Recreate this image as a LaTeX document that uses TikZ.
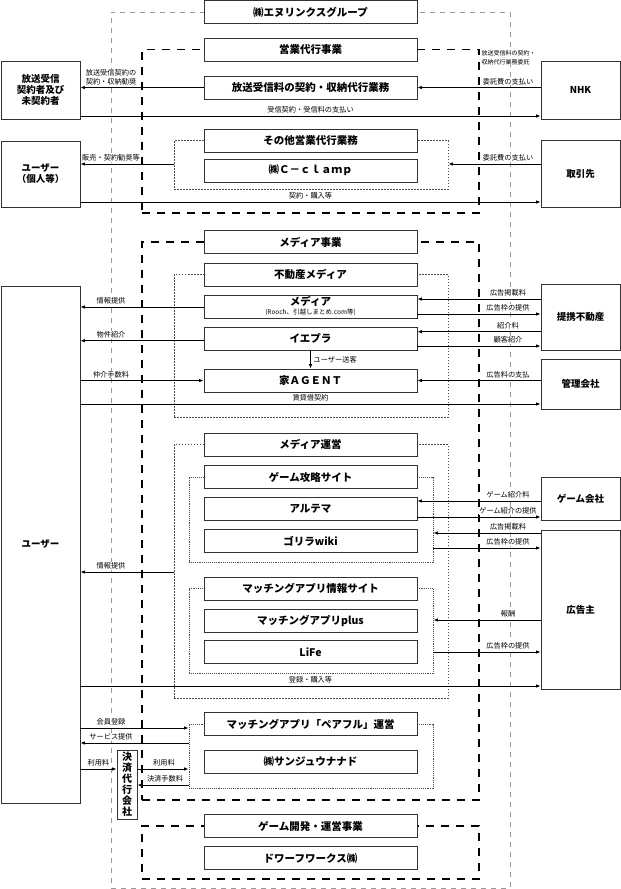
\documentclass[tikz,border=0pt]{standalone}
\usepackage{fontspec}
\setmainfont{Noto Sans CJK JP}
\usetikzlibrary{arrows.meta}

\tikzset{
  box/.style={draw=black!80,fill=white,line width=.8pt,minimum width=213pt,minimum height=23pt,inner sep=0pt,font=\fontsize{10.5}{12}\selectfont\bfseries},
  party/.style={draw=black!80,fill=white,line width=.8pt,minimum width=79pt,inner sep=0pt,align=center,font=\fontsize{9.5}{11}\selectfont\bfseries},
  lbl/.style={fill=white,inner sep=.5pt,font=\fontsize{7.2}{9}\selectfont},
  arr/.style={-{Latex[length=4.5pt,width=3.5pt]},line width=.9pt},
  grpframe/.style={draw=black!40,line width=1pt,dash pattern=on 5pt off 5pt,inner sep=0pt},
  secframe/.style={draw,line width=1.3pt,dash pattern=on 8pt off 7pt,inner sep=0pt},
  subframe/.style={draw=black!70,line width=.7pt,dash pattern=on 1.5pt off 1.5pt,inner sep=0pt},
  siteframe/.style={draw=black!70,line width=.9pt,densely dotted,inner sep=0pt},
}

\begin{document}
\begin{tikzpicture}[x=1pt,y=-1pt]
  \useasboundingbox (0,0) rectangle (621,889);
  % frames
  \node[grpframe,minimum width=399pt,minimum height=876pt] (fgrp) at (310.5,450) {};
  \node[secframe,minimum width=337pt,minimum height=163.5pt] (feigyo) at (310.5,131.25) {};
  \node[secframe,minimum width=337pt,minimum height=558pt] (fmedia) at (310.5,521) {};
  \node[secframe,minimum width=337pt,minimum height=53pt] (fgamedev) at (310.5,852.5) {};
  \node[subframe,minimum width=274pt,minimum height=48.5pt] (fsonota) at (311,164.75) {};
  \node[subframe,minimum width=274pt,minimum height=142.5pt] (ffudo) at (311,345.75) {};
  \node[subframe,minimum width=274pt,minimum height=253.5pt] (funei) at (311,571.25) {};
  \node[siteframe,minimum width=244pt,minimum height=85pt] (fgame) at (311,519.5) {};
  \node[siteframe,minimum width=244pt,minimum height=84.5pt] (fmatch) at (311,630.75) {};
  \node[siteframe,minimum width=244pt,minimum height=64pt] (fpairs) at (311,756) {};

  % business boxes
  \foreach \n/\y/\t in {grp/12/㈱エヌリンクスグループ, eigyo/49.5/営業代行事業,
      hoso/87.5/放送受信料の契約・収納代行業務, sonota/140.5/その他営業代行業務,
      cclamp/170.5/㈱Ｃ－ｃｌａｍｐ, mediaj/242/メディア事業, fudo/274.5/不動産メディア,
      iepura/338.5/イエプラ, ieagent/380.5/家ＡＧＥＮＴ, unei/444.5/メディア運営,
      game/477/ゲーム攻略サイト, arutema/508.5/アルテマ, gorira/541/ゴリラwiki,
      match/588.5/マッチングアプリ情報サイト, plus/620.5/マッチングアプリplus, life/652/LiFe,
      pairs/724/マッチングアプリ「ペアフル」運営, sanju/762/㈱サンジュウナナド,
      gamedev/826/ゲーム開発・運営事業, dwarf/858/ドワーフワークス㈱}
    \node[box] (\n) at (310.5,\y) {\t};
  \node[box,align=center] (media) at (310.5,306.5) {メディア\\[-3pt]{\fontsize{6.5}{7}\selectfont\mdseries (Rooch、引越しまとめ.com等)}};

  % outside parties
  \node[party,minimum height=58pt] (housou) at (40.5,90) {放送受信\\契約者及び\\未契約者};
  \node[party,minimum height=66pt] (kojin) at (40.5,174) {ユーザー\\（個人等）};
  \node[party,minimum height=517pt] (user) at (40.5,544.5) {ユーザー};
  \node[party,minimum height=58pt] (nhk) at (580.5,90) {NHK};
  \node[party,minimum height=67pt] (torihiki) at (580.5,173.5) {取引先};
  \node[party,minimum height=66pt] (teikei) at (580.5,317) {提携不動産};
  \node[party,minimum height=50pt] (kanri) at (580.5,384) {管理会社};
  \node[party,minimum height=43pt] (gamekai) at (580.5,498.5) {ゲーム会社};
  \node[party,minimum height=159pt] (koukoku) at (580.5,609.5) {広告主};
  \node[party,minimum width=20pt,minimum height=69pt,font=\fontsize{10}{11}\selectfont\bfseries] (kessai) at (127,784.5) {決\\済\\代\\行\\会\\社};

  % flows
  \foreach \a/\b/\y in {hoso.west/housou.east/87.5, housou.east/nhk.west/116, nhk.west/hoso.east/87.5,
      torihiki.west/fsonota.east/164, fsonota.west/kojin.east/164, kojin.east/torihiki.west/202,
      media.west/user.east/307, iepura.west/user.east/340.7, user.east/ieagent.west/380.5,
      user.east/kanri.west/404, teikei.west/media.east/299, media.east/teikei.west/314,
      teikei.west/iepura.east/331.7, iepura.east/teikei.west/346, kanri.west/ieagent.east/380.5,
      funei.west/user.east/572, user.east/koukoku.west/686, gamekai.west/arutema.east/501,
      arutema.east/gamekai.west/517, koukoku.west/fgame.east/533, fgame.east/koukoku.west/548,
      koukoku.west/fmatch.east/620, fmatch.east/koukoku.west/652, user.east/fpairs.west/728,
      fpairs.west/user.east/743, user.east/kessai.west/769, kessai.east/fpairs.west/769,
      fpairs.west/kessai.east/785}
    \draw[arr] (\a |- 0,\y) -- (\b |- 0,\y);
  \draw[arr] (iepura.south) -- (ieagent.north);

  % flow labels
  \foreach \n/\x/\y/\t in {l2/310.5/116/受信契約・受信料の支払い, l3/508/87.5/委託費の支払い,
      l4/508/164/委託費の支払い, l5/111/164/販売・契約勧奨等, l6/310.5/202/契約・購入等,
      l7/111/307/情報提供, l8/111/340.7/物件紹介, l9/111/380.5/仲介手数料, l10/310.5/404/賃貸借契約,
      l11/508/299/広告掲載料, l12/508/314/広告枠の提供, l13/508/331.7/紹介料, l14/508/346/顧客紹介,
      l15/508/380.5/広告料の支払, l16/111/572/情報提供, l17/310.5/686/登録・購入等,
      l18/508/501/ゲーム紹介料, l19/508/517/ゲーム紹介の提供, l20/508/533/広告掲載料,
      l21/508/548/広告枠の提供, l22/508/620/報酬, l23/508/652/広告枠の提供,
      l24/111/728/会員登録, l25/111/743/サービス提供, l26/98.5/769/利用料,
      l27/164/769/利用料, l28/165/785/決済手数料}
    \node[lbl,above=2pt] (\n) at (\x,\y) {\t};
  \node[lbl,above=2pt,align=center] (l1) at (111,87.5) {放送受信契約の\\契約・収納勧奨};
  \node[lbl,anchor=west,align=left,font=\fontsize{6}{9}\selectfont] (l0) at (481,57.5) {放送受信料の契約・\\収納代行業務委託};
  \node[lbl,anchor=west] (l29) at (313,359.5) {ユーザー送客};
\end{tikzpicture}
\end{document}
